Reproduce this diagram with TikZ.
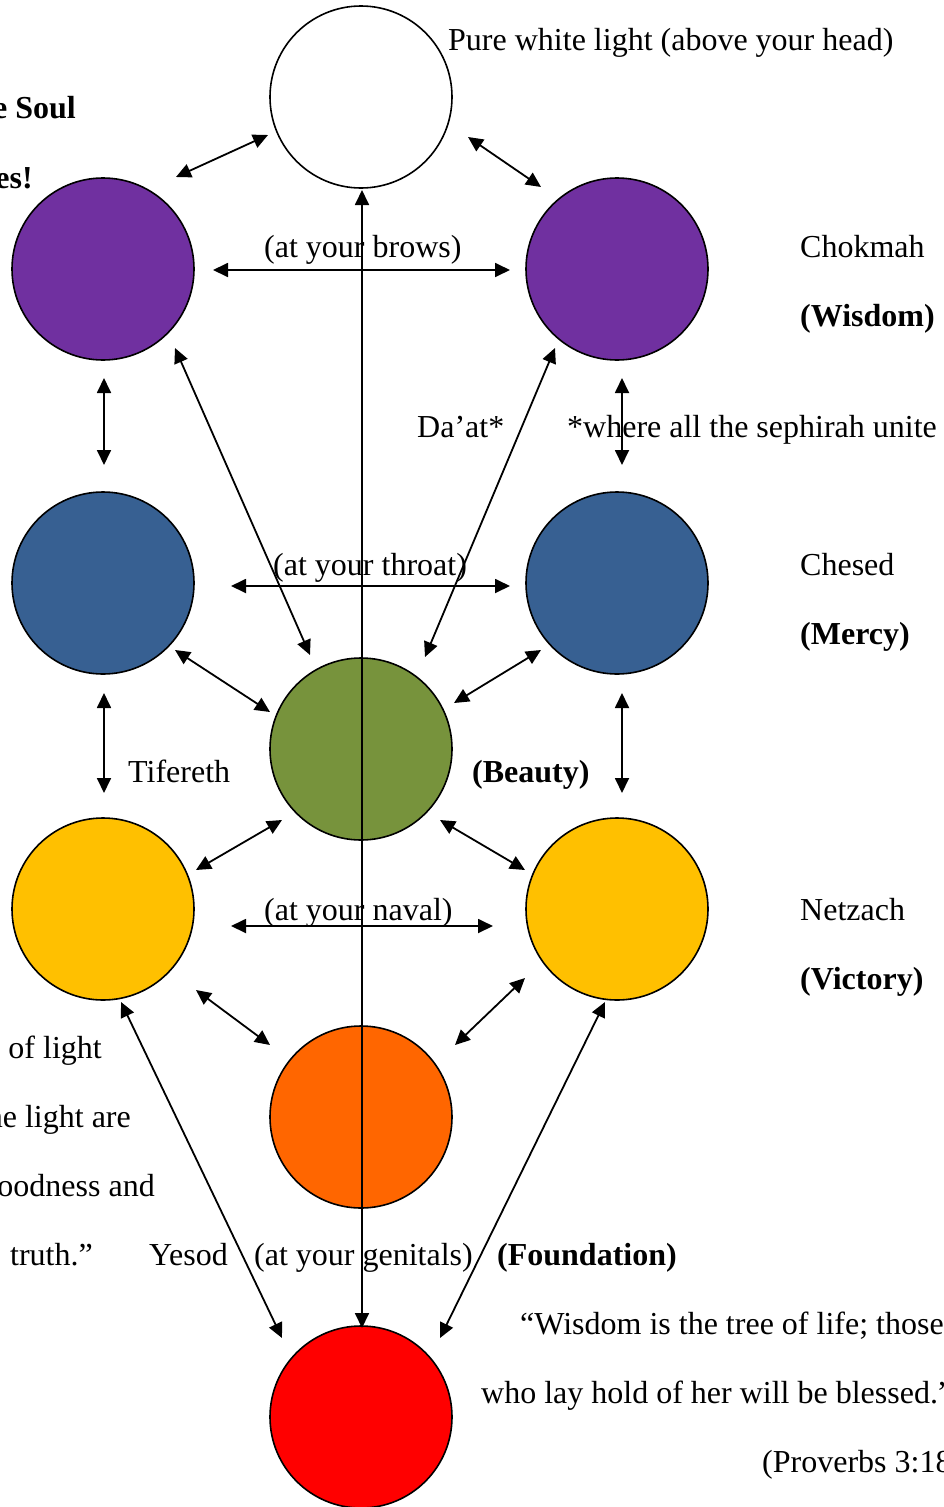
\documentclass[tikz,border=0pt]{standalone}
\usepackage{fontspec}
\setmainfont{Liberation Serif}
\usetikzlibrary{arrows.meta}
\definecolor{cpurple}{HTML}{7030A0}
\definecolor{cblue}{HTML}{376092}
\definecolor{cgreen}{HTML}{77933C}
\definecolor{cyellow}{HTML}{FFC000}
\definecolor{corange}{HTML}{FF6600}
\definecolor{cred}{HTML}{FF0000}
\tikzset{
  sephira/.style={circle, draw=black, line width=1.6pt, minimum size=182pt, inner sep=0pt},
  arr/.style={line width=1.8pt, {Triangle[length=15pt,width=14pt]}-{Triangle[length=15pt,width=14pt]}},
  lbl/.style={inner sep=0pt, font=\fontsize{32}{38}\selectfont},
  blbl/.style={lbl, font=\fontsize{32}{38}\selectfont\bfseries},
}
\begin{document}
\begin{tikzpicture}[x=1pt,y=-1pt]
\useasboundingbox (0,0) rectangle (944,1507);
% sephirot
\node[sephira, fill=white]   (kether)  at (361,97) {};
\node[sephira, fill=cpurple] (binah)   at (103,269) {};
\node[sephira, fill=cpurple] (chokmah) at (617,269) {};
\node[sephira, fill=cblue]   (gevurah) at (103,583) {};
\node[sephira, fill=cblue]   (chesed)  at (617,583) {};
\node[sephira, fill=cgreen]  (tifereth) at (361,749) {};
\node[sephira, fill=cyellow] (hod)     at (103,909) {};
\node[sephira, fill=cyellow] (netzach) at (617,909) {};
\node[sephira, fill=corange] (yesod)   at (361,1117) {};
\node[sephira, fill=cred]    (malkuth) at (361,1417) {};

% labels
\node[lbl, anchor=base west] (t1) at (448,50) {Pure white light (above your head)};
\node[blbl, anchor=base east] (t2) at (76,118) {e Soul};
\node[blbl, anchor=base east] (t3) at (33,188) {es!};
\node[lbl, anchor=base west] (t4) at (800,257) {Chokmah};
\node[blbl, anchor=base west] (t5) at (800,326) {(Wisdom)};
\node[lbl, anchor=base west] (t6) at (264,257) {(at your brows)};
\node[lbl, anchor=base west] (t7) at (417,437) {Da’at*};
\node[lbl, anchor=base west] (t8) at (567,437) {*where all the sephirah unite};
\node[lbl, anchor=base west] (t9) at (273,575) {(at your throat)};
\node[lbl, anchor=base west] (t10) at (800,575) {Chesed};
\node[blbl, anchor=base west] (t11) at (800,644) {(Mercy)};
\node[lbl, anchor=base west] (t12) at (128,782) {Tifereth};
\node[blbl, anchor=base west] (t13) at (472,782) {(Beauty)};
\node[lbl, anchor=base west] (t14) at (264,920) {(at your naval)};
\node[lbl, anchor=base west] (t15) at (800,920) {Netzach};
\node[blbl, anchor=base west] (t16) at (800,989) {(Victory)};
\node[lbl, anchor=base east] (t17) at (102,1058) {of light};
\node[lbl, anchor=base east] (t18) at (131,1127) {he light are};
\node[lbl, anchor=base east] (t19) at (155,1196) {oodness and};
\node[lbl, anchor=base east] (t20) at (93,1265) {truth.”};
\node[lbl, anchor=base west] (t21) at (149,1265) {Yesod};
\node[lbl, anchor=base west] (t22) at (254,1265) {(at your genitals)};
\node[blbl, anchor=base west] (t23) at (497,1265) {(Foundation)};
\node[lbl, anchor=base west] (t24) at (520,1334) {“Wisdom is the tree of life; those};
\node[lbl, anchor=base west] (t25) at (481,1403) {who lay hold of her will be blessed.”};
\node[lbl, anchor=base west] (t26) at (762,1472) {(Proverbs 3:18)};

% arrow end points
\coordinate (a1) at (176,177);  \coordinate (a2) at (268,135);
\coordinate (b1) at (468,137);  \coordinate (b2) at (541,187);
\coordinate (c1) at (213,270);  \coordinate (c2) at (510,270);
\coordinate (d1) at (104,378);  \coordinate (d2) at (104,465);
\coordinate (e1) at (622,378);  \coordinate (e2) at (622,465);
\coordinate (f1) at (175,348);  \coordinate (f2) at (310,655);
\coordinate (g1) at (555,348);  \coordinate (g2) at (425,657);
\coordinate (h1) at (362,190);  \coordinate (h2) at (362,1328);
\coordinate (i1) at (231,586);  \coordinate (i2) at (510,586);
\coordinate (j1) at (175,650);  \coordinate (j2) at (270,712);
\coordinate (k1) at (541,650);  \coordinate (k2) at (454,703);
\coordinate (l1) at (104,693);  \coordinate (l2) at (104,793);
\coordinate (m1) at (622,693);  \coordinate (m2) at (622,793);
\coordinate (n1) at (282,820);  \coordinate (n2) at (196,870);
\coordinate (o1) at (440,820);  \coordinate (o2) at (525,870);
\coordinate (p1) at (231,926);  \coordinate (p2) at (493,926);
\coordinate (q1) at (196,990);  \coordinate (q2) at (270,1045);
\coordinate (r1) at (525,978);  \coordinate (r2) at (455,1045);
\coordinate (s1) at (121,1002); \coordinate (s2) at (282,1338);
\coordinate (u1) at (605,1002); \coordinate (u2) at (440,1338);

\foreach \p in {a,b,c,d,e,f,g,h,i,j,k,l,m,n,o,p,q,r,s,u}
  \draw[arr] (\p1) -- (\p2);
\end{tikzpicture}
\end{document}
